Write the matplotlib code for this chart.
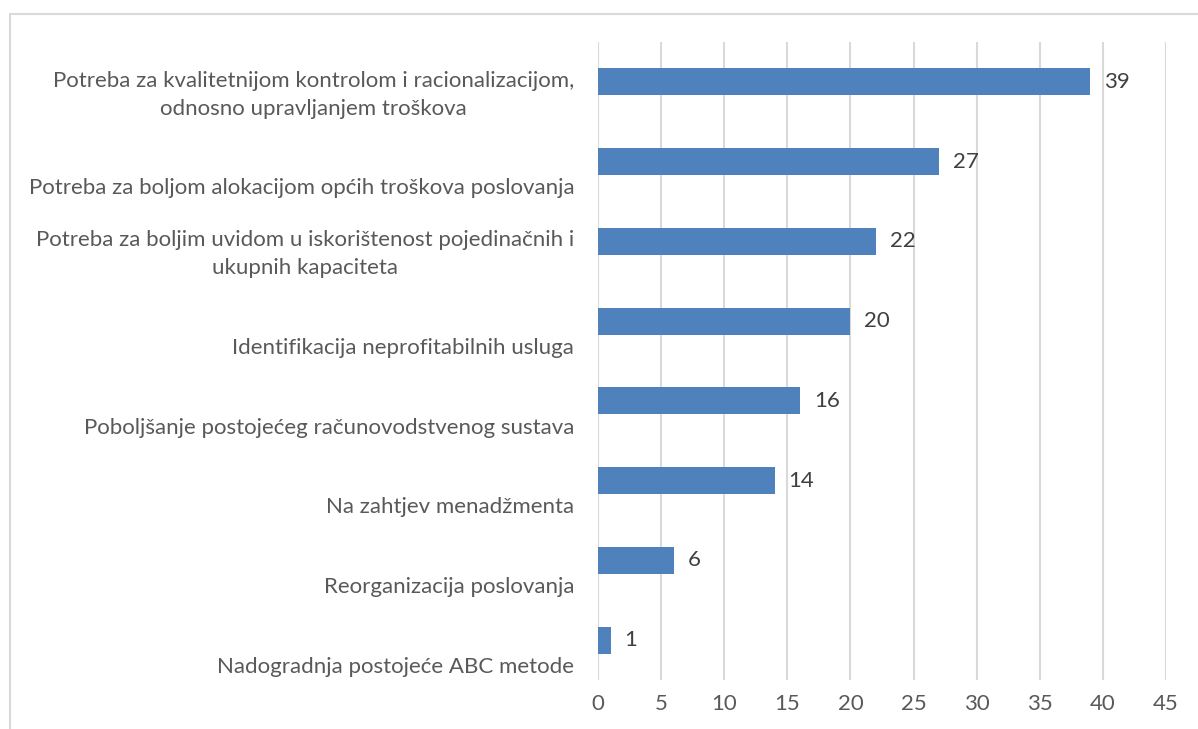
import matplotlib.pyplot as plt
from matplotlib.patches import Rectangle
from matplotlib.transforms import blended_transform_factory

plt.rcParams['font.family'] = ['Lato', 'DejaVu Sans']

# kategorije odozgo prema dolje
categories = [
    'Potreba za kvalitetnijom kontrolom i racionalizacijom,\nodnosno upravljanjem troškova',
    'Potreba za boljom alokacijom općih troškova poslovanja',
    'Potreba za boljim uvidom u iskorištenost pojedinačnih i\nukupnih kapaciteta',
    'Identifikacija neprofitabilnih usluga',
    'Poboljšanje postojećeg računovodstvenog sustava',
    'Na zahtjev menadžmenta',
    'Reorganizacija poslovanja',
    'Nadogradnja postojeće ABC metode',
]
values = [39, 27, 22, 20, 16, 14, 6, 1]
xticks = [0, 5, 10, 15, 20, 25, 30, 35, 40, 45]

bar_color = '#4F81BD'
grid_color = '#D9D9D9'
label_color = '#595959'
fs = 16

fig = plt.figure(figsize=(11.98, 7.29), dpi=100)
ax = fig.add_axes([598 / 1198, 1 - 680 / 729, 568 / 1198, 638 / 729])

# okvir grafikona
fig.patches.append(Rectangle((10 / 1198, -0.1), 1.2, 1 - 14 / 729 + 0.1,
                             transform=fig.transFigure, fill=False,
                             edgecolor=grid_color, linewidth=1.5))

pos = list(range(len(categories)))
ax.barh(pos, values, height=0.34, color=bar_color, zorder=3)

for p, v in zip(pos, values):
    ax.annotate(str(v), (v, p), xytext=(10, 0), textcoords='offset points',
                va='center', ha='left', fontsize=fs, color='#404040')

# oznake kategorija (poravnate prema dnu, kao u Excelu)
trans = blended_transform_factory(ax.transAxes, ax.transData)
for p, c in zip(pos, categories):
    ax.text(-0.042, p + 0.46, c, transform=trans, ha='right', va='bottom',
            multialignment='center', fontsize=fs, color=label_color,
            linespacing=1.5)

ax.set_ylim(len(categories) - 0.5, -0.5)
ax.set_xlim(0, 45)
ax.set_xticks(xticks)
ax.set_yticks([])
ax.tick_params(axis='x', length=0, pad=10, labelsize=fs, labelcolor=label_color)
ax.grid(axis='x', color=grid_color, linewidth=1.5, zorder=0)
for s in ax.spines.values():
    s.set_visible(False)

fig.savefig('out.png', dpi=100)
